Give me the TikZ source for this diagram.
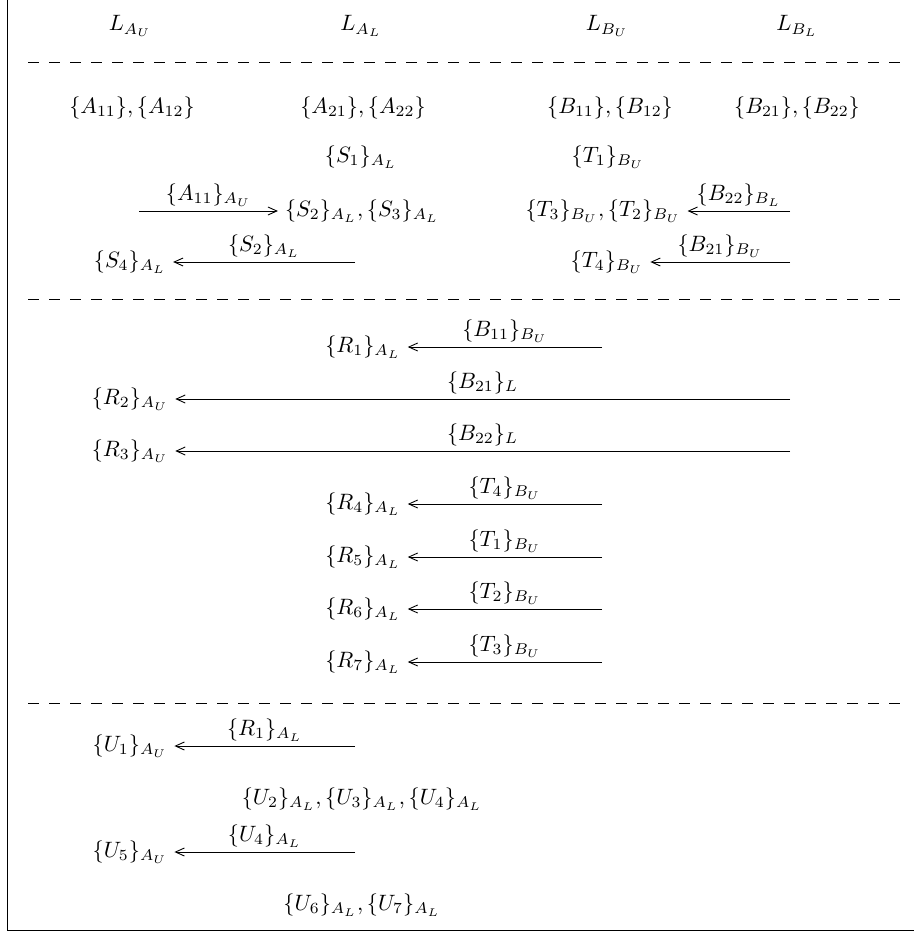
\documentclass[tikz,border=0pt]{standalone}
\usetikzlibrary{arrows.meta}
\begin{document}
\begin{tikzpicture}[x=0.45pt,y=-0.45pt,
  lbl/.style={inner sep=3pt},
  sep/.style={dash pattern=on 4.8pt off 4.65pt},
  msg/.style={-{Straight Barb[length=4pt,width=3.6pt]}},
  tag/.style={above,inner sep=2pt}]
\useasboundingbox (0,0) rectangle (914,932);
\draw (7,0) -- (7,930) -- (914,930);
% header
\node[lbl] (hAU) at (130,26) {$L_{A_U}$};
\node[lbl] (hAL) at (361,26) {$L_{A_L}$};
\node[lbl] (hBU) at (607,26) {$L_{B_U}$};
\node[lbl] (hBL) at (797,26) {$L_{B_L}$};
\draw[sep] (28,62) -- (905,62);
% phase 1
\node[lbl] (a1) at (132,108) {$\{A_{11}\},\{A_{12}\}$};
\node[lbl] (a2) at (363,108) {$\{A_{21}\},\{A_{22}\}$};
\node[lbl] (b1) at (610,108) {$\{B_{11}\},\{B_{12}\}$};
\node[lbl] (b2) at (797,108) {$\{B_{21}\},\{B_{22}\}$};
\node[lbl] (s1) at (361,157) {$\{S_1\}_{A_L}$};
\node[lbl] (t1) at (608,157) {$\{T_1\}_{B_U}$};
\node[lbl] (s23) at (362,211) {$\{S_2\}_{A_L},\{S_3\}_{A_L}$};
\node[lbl] (t32) at (603,211) {$\{T_3\}_{B_U},\{T_2\}_{B_U}$};
\node[lbl] (s4) at (130,262) {$\{S_4\}_{A_L}$};
\node[lbl] (t4) at (607,262) {$\{T_4\}_{B_U}$};
\coordinate (c1) at (139,211);
\coordinate (c2) at (790,211);
\coordinate (c3) at (355,262);
\coordinate (c4) at (790,262);
\draw[msg] (c1) -- node[tag] {$\{A_{11}\}_{A_U}$} (s23.west);
\draw[msg] (c2) -- node[tag] {$\{B_{22}\}_{B_L}$} (t32.east);
\draw[msg] (c3) -- node[tag] {$\{S_2\}_{A_L}$} (s4.east);
\draw[msg] (c4) -- node[tag] {$\{B_{21}\}_{B_U}$} (t4.east);
\draw[sep] (28,299) -- (905,299);
% phase 2
\node[lbl] (r1) at (363,347) {$\{R_1\}_{A_L}$};
\node[lbl] (r2) at (130,399) {$\{R_2\}_{A_U}$};
\node[lbl] (r3) at (130,451) {$\{R_3\}_{A_U}$};
\node[lbl] (r4) at (363,504) {$\{R_4\}_{A_L}$};
\node[lbl] (r5) at (363,557) {$\{R_5\}_{A_L}$};
\node[lbl] (r6) at (363,609) {$\{R_6\}_{A_L}$};
\node[lbl] (r7) at (363,662) {$\{R_7\}_{A_L}$};
\coordinate (d1) at (602,347);
\coordinate (d2) at (790,399);
\coordinate (d3) at (790,451);
\coordinate (d4) at (602,504);
\coordinate (d5) at (602,557);
\coordinate (d6) at (602,609);
\coordinate (d7) at (602,662);
\draw[msg] (d1) -- node[tag] {$\{B_{11}\}_{B_U}$} (r1.east);
\draw[msg] (d2) -- node[tag] {$\{B_{21}\}_{L}$} (r2.east);
\draw[msg] (d3) -- node[tag] {$\{B_{22}\}_{L}$} (r3.east);
\draw[msg] (d4) -- node[tag] {$\{T_4\}_{B_U}$} (r4.east);
\draw[msg] (d5) -- node[tag] {$\{T_1\}_{B_U}$} (r5.east);
\draw[msg] (d6) -- node[tag] {$\{T_2\}_{B_U}$} (r6.east);
\draw[msg] (d7) -- node[tag] {$\{T_3\}_{B_U}$} (r7.east);
\draw[sep] (28,703) -- (905,703);
% phase 3
\node[lbl] (u1) at (130,746) {$\{U_1\}_{A_U}$};
\node[lbl] (u234) at (362,799) {$\{U_2\}_{A_L},\{U_3\}_{A_L},\{U_4\}_{A_L}$};
\node[lbl] (u5) at (130,852) {$\{U_5\}_{A_U}$};
\node[lbl] (u67) at (362,905) {$\{U_6\}_{A_L},\{U_7\}_{A_L}$};
\coordinate (e1) at (355,746);
\coordinate (e2) at (355,852);
\draw[msg] (e1) -- node[tag] {$\{R_1\}_{A_L}$} (u1.east);
\draw[msg] (e2) -- node[tag] {$\{U_4\}_{A_L}$} (u5.east);
\end{tikzpicture}
\end{document}
